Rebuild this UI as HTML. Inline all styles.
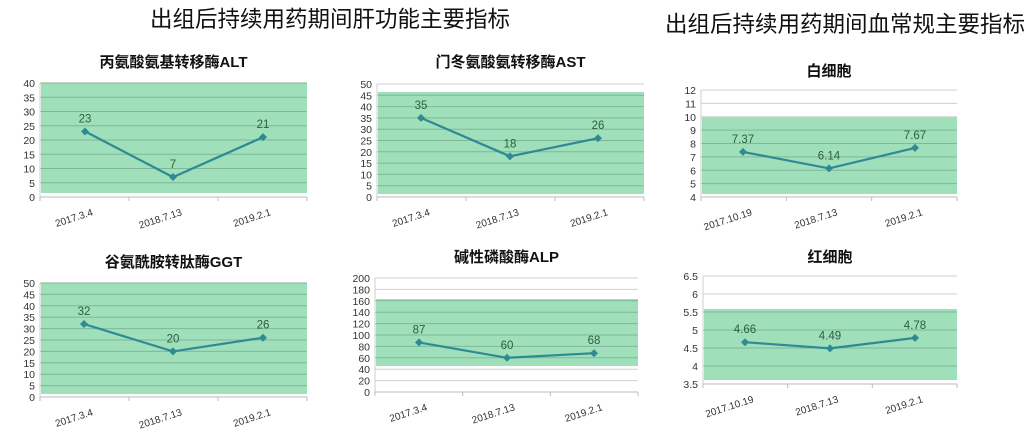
<!DOCTYPE html>
<html><head><meta charset="utf-8"><style>
body{margin:0;background:#fff;width:1036px;height:432px;overflow:hidden}
svg{display:block}
</style></head><body>
<svg id="s" width="1036" height="432" xmlns="http://www.w3.org/2000/svg" font-family="Liberation Sans, Noto Sans CJK SC, sans-serif">
<text x="330" y="27" font-size="22.5" text-anchor="middle" font-family="Noto Sans CJK SC, sans-serif" fill="#111">出组后持续用药期间肝功能主要指标</text>
<text x="845" y="32" font-size="22.5" text-anchor="middle" font-family="Noto Sans CJK SC, sans-serif" fill="#111">出组后持续用药期间血常规主要指标</text>
</svg>
<script>
var s=document.getElementById('s'),h='';
function C(o){
 var L=o.x0,R=o.x1,T=o.yt,B=o.yb,mn=o.min,mx=o.max;
 function Y(v){return B-(v-mn)/(mx-mn)*(B-T);}
 h+='<text x="'+((L+R)/2)+'" y="'+o.ty+'" font-size="15" font-weight="bold" text-anchor="middle" fill="#111">'+o.title+'</text>';
 h+='<rect x="'+(L+1)+'" y="'+o.gt+'" width="'+(R-L-1)+'" height="'+(o.gb-o.gt)+'" fill="#9fdfb9"/>';
 for(var v=mn;v<=mx+1e-9;v+=o.step){var y=Y(v).toFixed(1);
  h+='<line x1="'+L+'" x2="'+R+'" y1="'+y+'" y2="'+y+'" stroke="'+(y>=o.gt&&y<=o.gb?'#7fb79a':'#cfcfcf')+'" stroke-width="1"/>';
  h+='<text x="'+(L-5)+'" y="'+(+y+4)+'" font-size="10.5" text-anchor="end" fill="#333">'+(+v.toFixed(2))+'</text>';}
 h+='<line x1="'+L+'" x2="'+L+'" y1="'+T+'" y2="'+B+'" stroke="#cfcfcf"/>';
 h+='<line x1="'+L+'" x2="'+R+'" y1="'+B+'" y2="'+B+'" stroke="#bbb"/>';
 for(var i=0;i<4;i++){var x=L+(R-L)*i/3;h+='<line x1="'+x+'" x2="'+x+'" y1="'+B+'" y2="'+(B+4)+'" stroke="#bbb"/>';}
 var pts=o.px.map(function(x,i){return x+','+Y(o.v[i]).toFixed(1)}).join(' ');
 h+='<polyline points="'+pts+'" fill="none" stroke="#2f8a94" stroke-width="2.2"/>';
 o.px.forEach(function(x,i){var y=Y(o.v[i]);
  h+='<polygon points="'+x+','+(y-4)+' '+(x+4)+','+y+' '+x+','+(y+4)+' '+(x-4)+','+y+'" fill="#2f8a94"/>';
  h+='<text x="'+x+'" y="'+(y-9)+'" font-size="11.5" text-anchor="middle" fill="#2d5f3f">'+o.lab[i]+'</text>';
  var lx=L+(R-L)*(i+0.5)/3;
  h+='<text transform="translate('+(lx+9)+','+(B+18)+') rotate(-18)" font-size="10" text-anchor="end" fill="#333">'+o.d[i]+'</text>';});
}
var d1=['2017.3.4','2018.7.13','2019.2.1'],d2=['2017.10.19','2018.7.13','2019.2.1'];
C({title:'丙氨酸氨基转移酶ALT',ty:67,x0:40,x1:307,yt:83,yb:197,min:0,max:40,step:5,gt:83,gb:193,px:[85,173,263],v:[23,7,21],lab:['23','7','21'],d:d1});
C({title:'门冬氨酸氨转移酶AST',ty:67,x0:377,x1:644,yt:84,yb:197,min:0,max:50,step:5,gt:92,gb:194,px:[421,510,598],v:[35,18,26],lab:['35','18','26'],d:d1});
C({title:'白细胞',ty:76,x0:701,x1:957,yt:90,yb:197,min:4,max:12,step:1,gt:117,gb:194,px:[743,829,915],v:[7.37,6.14,7.67],lab:['7.37','6.14','7.67'],d:d2});
C({title:'谷氨酰胺转肽酶GGT',ty:267,x0:40,x1:307,yt:283,yb:397,min:0,max:50,step:5,gt:283,gb:394,px:[84,173,263],v:[32,20,26],lab:['32','20','26'],d:d1});
C({title:'碱性磷酸酶ALP',ty:262,x0:375,x1:638,yt:278,yb:392,min:0,max:200,step:20,gt:299,gb:366,px:[419,507,594],v:[87,60,68],lab:['87','60','68'],d:d1});
C({title:'红细胞',ty:262,x0:703,x1:957,yt:276,yb:384,min:3.5,max:6.5,step:0.5,gt:309,gb:380,px:[745,830,915],v:[4.66,4.49,4.78],lab:['4.66','4.49','4.78'],d:d2});
s.insertAdjacentHTML('beforeend',h);
</script>
</body></html>
